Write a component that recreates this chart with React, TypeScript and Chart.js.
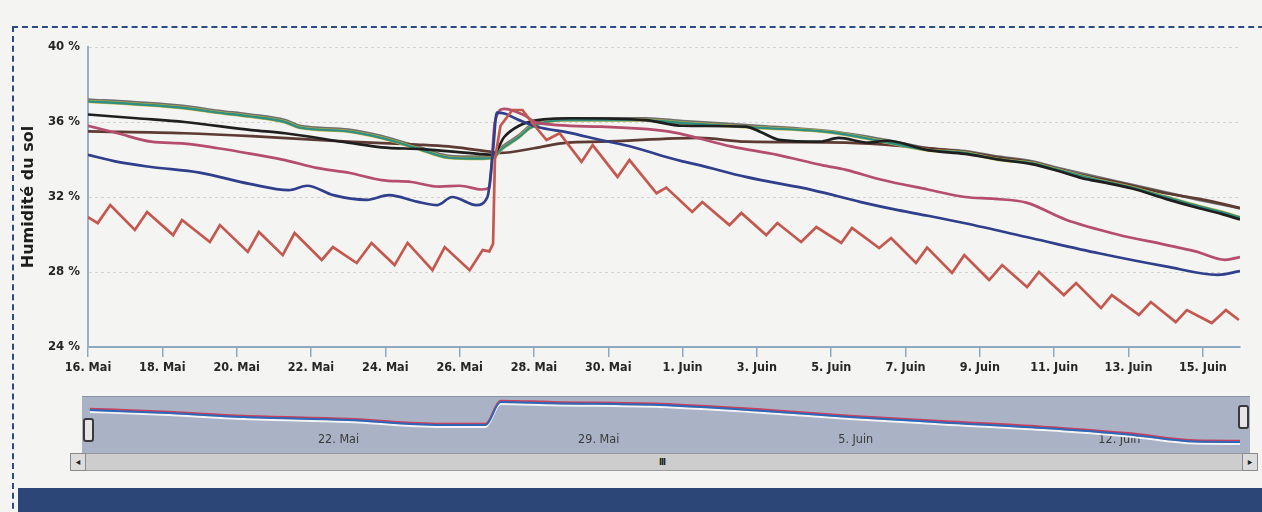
import React, { useEffect, useRef } from "react";
import { Chart, registerables } from "chart.js";
Chart.register(...registerables);

// ---- axis ticks ----
const xTickDays = [0, 2, 4, 6, 8, 10, 12, 14, 16, 18, 20, 22, 24, 26, 28, 30];
const xTickLabels = ["16. Mai", "18. Mai", "20. Mai", "22. Mai", "24. Mai", "26. Mai", "28. Mai", "30. Mai", "1. Juin", "3. Juin", "5. Juin", "7. Juin", "9. Juin", "11. Juin", "13. Juin", "15. Juin"];
const yTickValues = [24, 28, 32, 36, 40];
const yTickLabels = ["24 %", "28 %", "32 %", "36 %", "40 %"];
const navTickDays = [6, 13, 20, 27];
const navTickLabels = ["22. Mai", "29. Mai", "5. Juin", "12. Juin"];

// ---- series (x = days since 16 Mai) ----
const tealDays = [0, 1.3, 2.6, 3.5, 4.35, 5.3, 5.7, 7.0, 7.9, 8.85, 9.7, 10.5, 10.9, 11.1, 11.6, 11.9, 12.8, 15.0, 16.0, 18.0, 20.0, 21.3, 22.6, 23.6, 24.5, 25.4, 26.0, 26.75, 27.4, 28.1, 29.0, 29.9, 30.5, 31.0];
const tealVals = [37.1, 36.95, 36.75, 36.5, 36.3, 36.0, 35.7, 35.5, 35.15, 34.6, 34.1, 34.05, 34.1, 34.5, 35.2, 35.7, 36.1, 36.1, 35.95, 35.7, 35.45, 35.0, 34.5, 34.35, 34.0, 33.8, 33.5, 33.1, 32.8, 32.5, 32.0, 31.5, 31.2, 30.9];
const grayVals = [37.2, 37.05, 36.85, 36.6, 36.4, 36.1, 35.8, 35.6, 35.25, 34.7, 34.2, 34.15, 34.2, 34.6, 35.3, 35.8, 36.2, 36.2, 36.05, 35.8, 35.5, 35.1, 34.6, 34.45, 34.15, 33.9, 33.6, 33.25, 32.95, 32.65, 32.25, 31.85, 31.6, 31.4];

const blackDays = [0, 1.3, 2.6, 4.4, 5.3, 7.0, 7.9, 9.0, 10.5, 10.9, 11.2, 11.6, 12.1, 13.0, 15.0, 16.0, 17.7, 18.1, 18.6, 19.7, 20.2, 21.0, 21.5, 22.6, 23.6, 24.5, 25.4, 26.0, 26.75, 27.4, 28.1, 29.0, 29.9, 30.5, 31.0];
const blackVals = [36.4, 36.2, 36.0, 35.57, 35.4, 34.9, 34.65, 34.55, 34.3, 34.25, 35.2, 35.8, 36.1, 36.2, 36.1, 35.8, 35.75, 35.47, 35.05, 34.95, 35.15, 34.9, 35.0, 34.5, 34.3, 34.0, 33.75, 33.45, 33.0, 32.75, 32.45, 31.9, 31.4, 31.1, 30.8];

const brownDays = [0, 2.6, 4.4, 7.0, 8.85, 9.7, 10.5, 10.9, 11.1, 12.0, 12.9, 13.8, 16.45, 17.7, 20.4, 22.2, 23.6, 24.5, 25.4, 26.0, 26.75, 27.4, 28.1, 29.0, 29.9, 30.5, 31.0];
const brownVals = [35.5, 35.4, 35.25, 34.95, 34.8, 34.7, 34.5, 34.4, 34.35, 34.6, 34.9, 34.95, 35.15, 34.95, 34.9, 34.67, 34.4, 34.1, 33.85, 33.55, 33.15, 32.9, 32.6, 32.2, 31.9, 31.65, 31.4];

const pinkDays = [0, 0.8, 1.7, 2.6, 3.5, 4.4, 5.3, 6.15, 7.05, 7.9, 8.7, 9.45, 10.0, 10.6, 10.8, 10.95, 11.2, 11.7, 12.1, 13.8, 15.6, 16.1, 17.3, 18.55, 19.75, 20.4, 21.3, 22.6, 23.6, 24.4, 25.25, 26.3, 27.7, 29.0, 29.8, 30.6, 31.0];
const pinkVals = [35.8, 35.4, 34.95, 34.85, 34.6, 34.3, 33.97, 33.55, 33.28, 32.9, 32.8, 32.55, 32.6, 32.4, 32.5, 36.0, 36.7, 36.4, 35.95, 35.75, 35.5, 35.3, 34.7, 34.25, 33.7, 33.45, 32.95, 32.4, 32.0, 31.9, 31.7, 30.8, 30.0, 29.45, 29.1, 28.65, 28.8];

const blueDays = [0, 0.8, 1.7, 3.0, 4.35, 5.4, 5.9, 6.6, 7.5, 8.1, 8.85, 9.4, 9.8, 10.45, 10.75, 10.9, 11.0, 11.2, 11.6, 12.1, 12.9, 13.8, 14.65, 15.56, 16.0, 16.45, 17.7, 19.5, 20.8, 21.8, 22.6, 23.6, 25.4, 27.2, 29.0, 30.4, 31.0];
const blueVals = [34.25, 33.87, 33.6, 33.3, 32.7, 32.37, 32.6, 32.1, 31.85, 32.1, 31.75, 31.57, 32.0, 31.57, 32.0, 34.5, 36.5, 36.45, 36.1, 35.73, 35.45, 35.04, 34.67, 34.13, 33.9, 33.7, 33.07, 32.37, 31.73, 31.3, 31.0, 30.6, 29.8, 29.0, 28.3, 27.85, 28.05];

const redDays = [0, 0.26, 0.6, 1.26, 1.59, 2.29, 2.53, 3.28, 3.55, 4.3, 4.6, 5.24, 5.56, 6.29, 6.59, 7.23, 7.63, 8.25, 8.6, 9.27, 9.6, 10.27, 10.62, 10.8, 10.9, 10.95, 11.1, 11.42, 11.69, 12.07, 12.34, 12.69, 13.28, 13.58, 14.25, 14.57, 15.3, 15.56, 16.26, 16.53, 17.26, 17.58, 18.25, 18.55, 19.19, 19.6, 20.27, 20.56, 21.29, 21.61, 22.28, 22.58, 23.25, 23.58, 24.25, 24.6, 25.27, 25.59, 26.26, 26.59, 27.26, 27.55, 28.28, 28.6, 29.27, 29.57, 30.24, 30.62, 30.97];
const redVals = [30.93, 30.61, 31.57, 30.24, 31.2, 29.97, 30.77, 29.6, 30.5, 29.07, 30.13, 28.9, 30.08, 28.64, 29.33, 28.48, 29.55, 28.37, 29.55, 28.1, 29.33, 28.1, 29.17, 29.1, 29.5, 34.0, 35.8, 36.64, 36.64, 35.68, 35.04, 35.4, 33.87, 34.77, 33.07, 33.97, 32.2, 32.5, 31.2, 31.73, 30.5, 31.15, 29.97, 30.61, 29.6, 30.4, 29.55, 30.35, 29.28, 29.81, 28.48, 29.3, 27.95, 28.9, 27.57, 28.37, 27.2, 28.0, 26.77, 27.41, 26.08, 26.77, 25.71, 26.4, 25.33, 25.97, 25.28, 25.97, 25.44];

// navigator series
const navDays = [0.05, 2.0, 4.2, 7.0, 9.5, 10.7, 11.1, 12.5, 15.4, 18.0, 20.5, 23.0, 25.7, 28.0, 29.8, 31.0];
const navVals = [35.67, 35.2, 34.5, 34.0, 33.17, 33.17, 37.0, 36.8, 36.5, 35.6, 34.5, 33.6, 32.67, 31.6, 30.4, 30.33];

const pts = (d: number[], v: number[]) => d.map((x, i) => ({ x, y: v[i] }));

const FONT = "'DejaVu Sans Condensed', 'Liberation Sans Narrow', 'DejaVu Sans', sans-serif";

export default function App() {
  const mainRef = useRef<HTMLCanvasElement | null>(null);
  const navRef = useRef<HTMLCanvasElement | null>(null);

  useEffect(() => {
    const line = (label: string, data: any[], color: string, width: number, smooth = true) => ({
      label,
      data,
      borderColor: color,
      backgroundColor: color,
      borderWidth: width,
      pointRadius: 0,
      tension: smooth ? 0.25 : 0,
      cubicInterpolationMode: smooth ? ("monotone" as const) : ("default" as const),
      fill: false,
    });

    const main = new Chart(mainRef.current!, {
      type: "line",
      data: {
        datasets: [
          line("Rouge", pts(redDays, redVals), "#c4584f", 2.7, false),
          line("Bleu", pts(blueDays, blueVals), "#2f3f8c", 2.7),
          line("Rose", pts(pinkDays, pinkVals), "#b44d6e", 2.7),
          line("Noir", pts(blackDays, blackVals), "#1f1f1f", 2.7),
          line("Vert", pts(tealDays, tealVals), "#2f8f80", 2.4),
          line("Jaune", pts(tealDays, tealVals), "#c8b443", 3.4),
          line("Brun", pts(brownDays, brownVals), "#5e3a34", 2.7),
          line("Gris", pts(tealDays, grayVals), "#6f6f6f", 2.7),
        ],
      },
      options: {
        responsive: false,
        animation: false,
        events: [],
        layout: { padding: { left: 0, right: 22, top: 47, bottom: 0 } },
        plugins: { legend: { display: false }, tooltip: { enabled: false } },
        scales: {
          x: {
            type: "linear",
            min: 0,
            max: 31,
            afterBuildTicks: (s: any) => {
              s.ticks = xTickDays.map((v) => ({ value: v }));
            },
            afterFit: (s: any) => {
              s.height = 43;
            },
            ticks: {
              autoSkip: false,
              maxRotation: 0,
              padding: 3,
              color: "#262626",
              font: { family: FONT, size: 12.5, weight: "bold" },
              callback: (v: any) => {
                const i = xTickDays.indexOf(Number(v));
                return i >= 0 ? xTickLabels[i] : "";
              },
            },
            grid: { drawOnChartArea: false, drawTicks: true, tickLength: 10, color: "#8fa8c0", lineWidth: 1.5 },
            border: { color: "#8fa8c0", width: 2 },
          },
          y: {
            min: 24,
            max: 40,
            afterBuildTicks: (s: any) => {
              s.ticks = yTickValues.map((v) => ({ value: v }));
            },
            afterFit: (s: any) => {
              s.width = 88;
            },
            ticks: {
              padding: 8,
              color: "#262626",
              font: { family: FONT, size: 13, weight: "bold" },
              callback: (v: any) => {
                const i = yTickValues.indexOf(Number(v));
                return i >= 0 ? yTickLabels[i] : "";
              },
            },
            grid: { color: "#d4d4d4", drawTicks: false, lineWidth: 1 },
            border: { color: "#9bb0c6", width: 2, dash: [3, 3] },
            title: {
              display: true,
              text: "Humidité du sol",
              color: "#1e1e1e",
              font: { family: "'DejaVu Sans', sans-serif", size: 16, weight: "bold" },
              padding: { top: 19, bottom: 0 },
            },
          },
        },
      },
    });

    const nav = new Chart(navRef.current!, {
      type: "line",
      data: {
        datasets: [
          { ...line("nav bleu", pts(navDays, navVals), "#2f66b8", 2), yAxisID: "y" },
          { ...line("nav rouge", pts(navDays, navVals), "#c8405c", 2), yAxisID: "yRed" },
          { ...line("nav blanc", pts(navDays, navVals), "#f4f4f4", 2), yAxisID: "yWhite" },
        ],
      },
      options: {
        responsive: false,
        animation: false,
        events: [],
        layout: { padding: { left: 88, right: 22, top: 0, bottom: 0 } },
        plugins: { legend: { display: false }, tooltip: { enabled: false } },
        scales: {
          x: {
            type: "linear",
            min: 0,
            max: 31,
            afterBuildTicks: (s: any) => {
              s.ticks = navTickDays.map((v) => ({ value: v }));
            },
            afterFit: (s: any) => {
              s.height = 0;
            },
            ticks: {
              autoSkip: false,
              maxRotation: 0,
              mirror: true,
              align: "start",
              labelOffset: 7,
              padding: 5,
              color: "#3a3a3a",
              font: { family: FONT, size: 12.5 },
              callback: (v: any) => {
                const i = navTickDays.indexOf(Number(v));
                return i >= 0 ? navTickLabels[i] : "";
              },
            },
            grid: { display: false, drawTicks: false },
            border: { display: false },
          },
          y: { display: false, min: 28.67, max: 38 },
          yRed: { display: false, min: 28.45, max: 37.78 },
          yWhite: { display: false, min: 29.0, max: 38.33 },
        },
      },
    });

    return () => {
      main.destroy();
      nav.destroy();
    };
  }, []);

  const abs = (s: React.CSSProperties): React.CSSProperties => ({ position: "absolute", ...s });

  return (
    <div style={abs({ left: 0, top: 0, width: 1262, height: 512, background: "#f4f4f2", overflow: "hidden", fontFamily: FONT })}>
      <div style={abs({ left: 12, top: 26, width: 1300, height: 600, borderTop: "2px dashed #2b4a86", borderLeft: "2px dashed #2b4a86" })} />
      <canvas ref={mainRef} width={1262} height={390} style={abs({ left: 0, top: 0 })} />
      <div style={abs({ left: 82, top: 396, width: 1168, height: 56, background: "#a9b3c5", borderTop: "1px solid #8a94a8" })} />
      <canvas ref={navRef} width={1262} height={56} style={abs({ left: 0, top: 396 })} />
      {/* navigator handles */}
      <div style={abs({ left: 83, top: 418, width: 7, height: 20, background: "#e6e6e6", border: "2px solid #3a3a3a", borderRadius: 3 })} />
      <div style={abs({ left: 1238, top: 405, width: 7, height: 20, background: "#e6e6e6", border: "2px solid #3a3a3a", borderRadius: 3 })} />
      {/* scrollbar */}
      <div style={abs({ left: 70, top: 453, width: 1188, height: 18, background: "#cdcdcd", border: "1px solid #9a9a9a", boxSizing: "border-box" })} />
      <div style={abs({ left: 70, top: 453, width: 16, height: 18, background: "#dcdcdc", border: "1px solid #8a8a8a", boxSizing: "border-box", fontSize: 10, lineHeight: "16px", textAlign: "center", color: "#222" })}>◂</div>
      <div style={abs({ left: 1242, top: 453, width: 16, height: 18, background: "#dcdcdc", border: "1px solid #8a8a8a", boxSizing: "border-box", fontSize: 10, lineHeight: "16px", textAlign: "center", color: "#222" })}>▸</div>
      <div style={abs({ left: 659, top: 457, width: 12, height: 10, fontSize: 9, lineHeight: "10px", letterSpacing: -1, color: "#222", fontWeight: "bold" })}>III</div>
      {/* bottom band */}
      <div style={abs({ left: 18, top: 488, width: 1244, height: 24, background: "#2b4677" })} />
    </div>
  );
}
